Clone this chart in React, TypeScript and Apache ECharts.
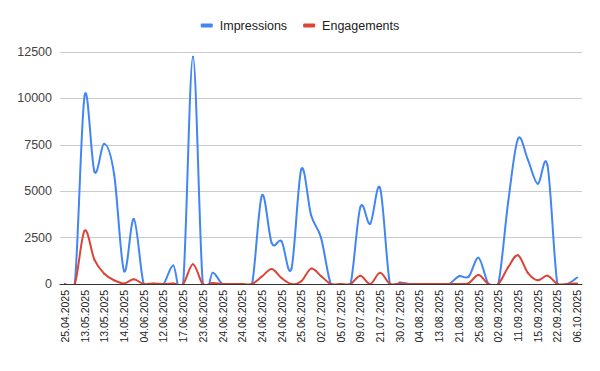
import React, { useEffect, useRef } from "react";
import * as echarts from "echarts";

const categories: string[] = [
  "25.04.2025", "05.05.2025", "13.05.2025", "13.05.2025", "13.05.2025", "14.05.2025",
  "14.05.2025", "22.05.2025", "04.06.2025", "10.06.2025", "12.06.2025", "16.06.2025",
  "17.06.2025", "20.06.2025", "23.06.2025", "24.06.2025", "24.06.2025", "24.06.2025",
  "24.06.2025", "24.06.2025", "24.06.2025", "24.06.2025", "24.06.2025", "25.06.2025",
  "25.06.2025", "30.06.2025", "02.07.2025", "04.07.2025", "05.07.2025", "07.07.2025",
  "09.07.2025", "15.07.2025", "21.07.2025", "25.07.2025", "30.07.2025", "01.08.2025",
  "04.08.2025", "08.08.2025", "13.08.2025", "18.08.2025", "21.08.2025", "23.08.2025",
  "25.08.2025", "29.08.2025", "02.09.2025", "08.09.2025", "11.09.2025", "13.09.2025",
  "15.09.2025", "18.09.2025", "22.09.2025", "30.09.2025", "06.10.2025",
];

const impressions: number[] = [
  0, 0, 10150, 6050, 7550, 5900, 700, 3500, 0, 0, 0, 1000, 0, 12250, 0, 600,
  0, 0, 0, 0, 4770, 2200, 2300, 820, 6180, 3700, 2500, 0, 0, 0, 4150, 3250,
  5170, 0, 80, 0, 0, 0, 0, 0, 420, 400, 1410, 0, 0, 4400, 7820, 6700, 5400,
  6380, 0, 0, 350,
];

const engagements: number[] = [
  0, 0, 2870, 1300, 550, 200, 30, 250, 0, 30, 0, 30, 0, 1070, 0, 50,
  0, 0, 0, 0, 400, 810, 320, 0, 150, 830, 430, 0, 0, 0, 450, 0,
  600, 0, 30, 0, 0, 0, 0, 0, 0, 50, 480, 0, 0, 900, 1550, 600, 200,
  450, 0, 0, 30,
];

const seriesNames = ["Impressions", "Engagements"];
const colors = ["#4285F4", "#DB4437"];

function curveSeries(name: string, values: number[], color: string, z: number) {
  const n = values.length;
  return {
    name,
    type: "custom",
    coordinateSystem: "cartesian2d",
    data: values.map((v, i) => [i, v]),
    encode: { x: 0, y: 1 },
    clip: true,
    z,
    itemStyle: { color },
    renderItem: (params: any, api: any) => {
      const i = params.dataIndex;
      if (i >= n - 1) return null;
      const pt = (k: number) => {
        const kk = Math.max(0, Math.min(n - 1, k));
        return api.coord([kk, values[kk]]);
      };
      const p0 = pt(i - 1);
      const p1 = pt(i);
      const p2 = pt(i + 1);
      const p3 = pt(i + 2);
      return {
        type: "bezierCurve",
        silent: true,
        shape: {
          x1: p1[0],
          y1: p1[1],
          x2: p2[0],
          y2: p2[1],
          cpx1: p1[0] + (p2[0] - p0[0]) / 6,
          cpy1: p1[1] + (p2[1] - p0[1]) / 6,
          cpx2: p2[0] - (p3[0] - p1[0]) / 6,
          cpy2: p2[1] - (p3[1] - p1[1]) / 6,
        },
        style: { stroke: color, lineWidth: 2, fill: null, lineCap: "round" },
      };
    },
  };
}

export default function App() {
  const ref = useRef<HTMLDivElement>(null);
  useEffect(() => {
    document.body.style.margin = "0";
    if (!ref.current) return;
    const chart = echarts.init(ref.current, undefined, { renderer: "svg" });
    const font = "Arial, 'Liberation Sans', sans-serif";
    chart.setOption({
      animation: false,
      color: colors,
      textStyle: { fontFamily: font },
      legend: {
        top: 14,
        left: "center",
        itemWidth: 12,
        itemHeight: 4,
        itemGap: 16,
        icon: "roundRect",
        textStyle: { fontSize: 12.5, color: "#222", fontFamily: font, padding: [0, 0, 0, 2] },
        data: seriesNames.map((s, k) => ({ name: s, itemStyle: { color: colors[k] } })),
      },
      grid: { left: 60, right: 18, top: 52, bottom: 87, containLabel: false },
      xAxis: {
        type: "category",
        data: categories,
        boundaryGap: true,
        axisLine: { show: true, lineStyle: { color: "#333", width: 1 } },
        axisTick: { show: false },
        axisLabel: {
          interval: 1,
          rotate: 90,
          margin: 6,
          fontSize: 10.5,
          color: "#222",
          fontFamily: font,
        },
        splitLine: { show: false },
        z: 5,
      },
      yAxis: {
        type: "value",
        min: 0,
        max: 12500,
        interval: 2500,
        axisLine: { show: false },
        axisTick: { show: false },
        axisLabel: {
          fontSize: 12.5,
          color: "#444",
          margin: 8,
          fontFamily: font,
          formatter: (v: number) => String(v),
        },
        splitLine: { lineStyle: { color: "#ccc", width: 1 } },
      },
      series: [
        curveSeries(seriesNames[0], impressions, colors[0], 2),
        curveSeries(seriesNames[1], engagements, colors[1], 3),
      ],
    });
    return () => chart.dispose();
  }, []);
  return <div ref={ref} style={{ width: 600, height: 371 }} />;
}
